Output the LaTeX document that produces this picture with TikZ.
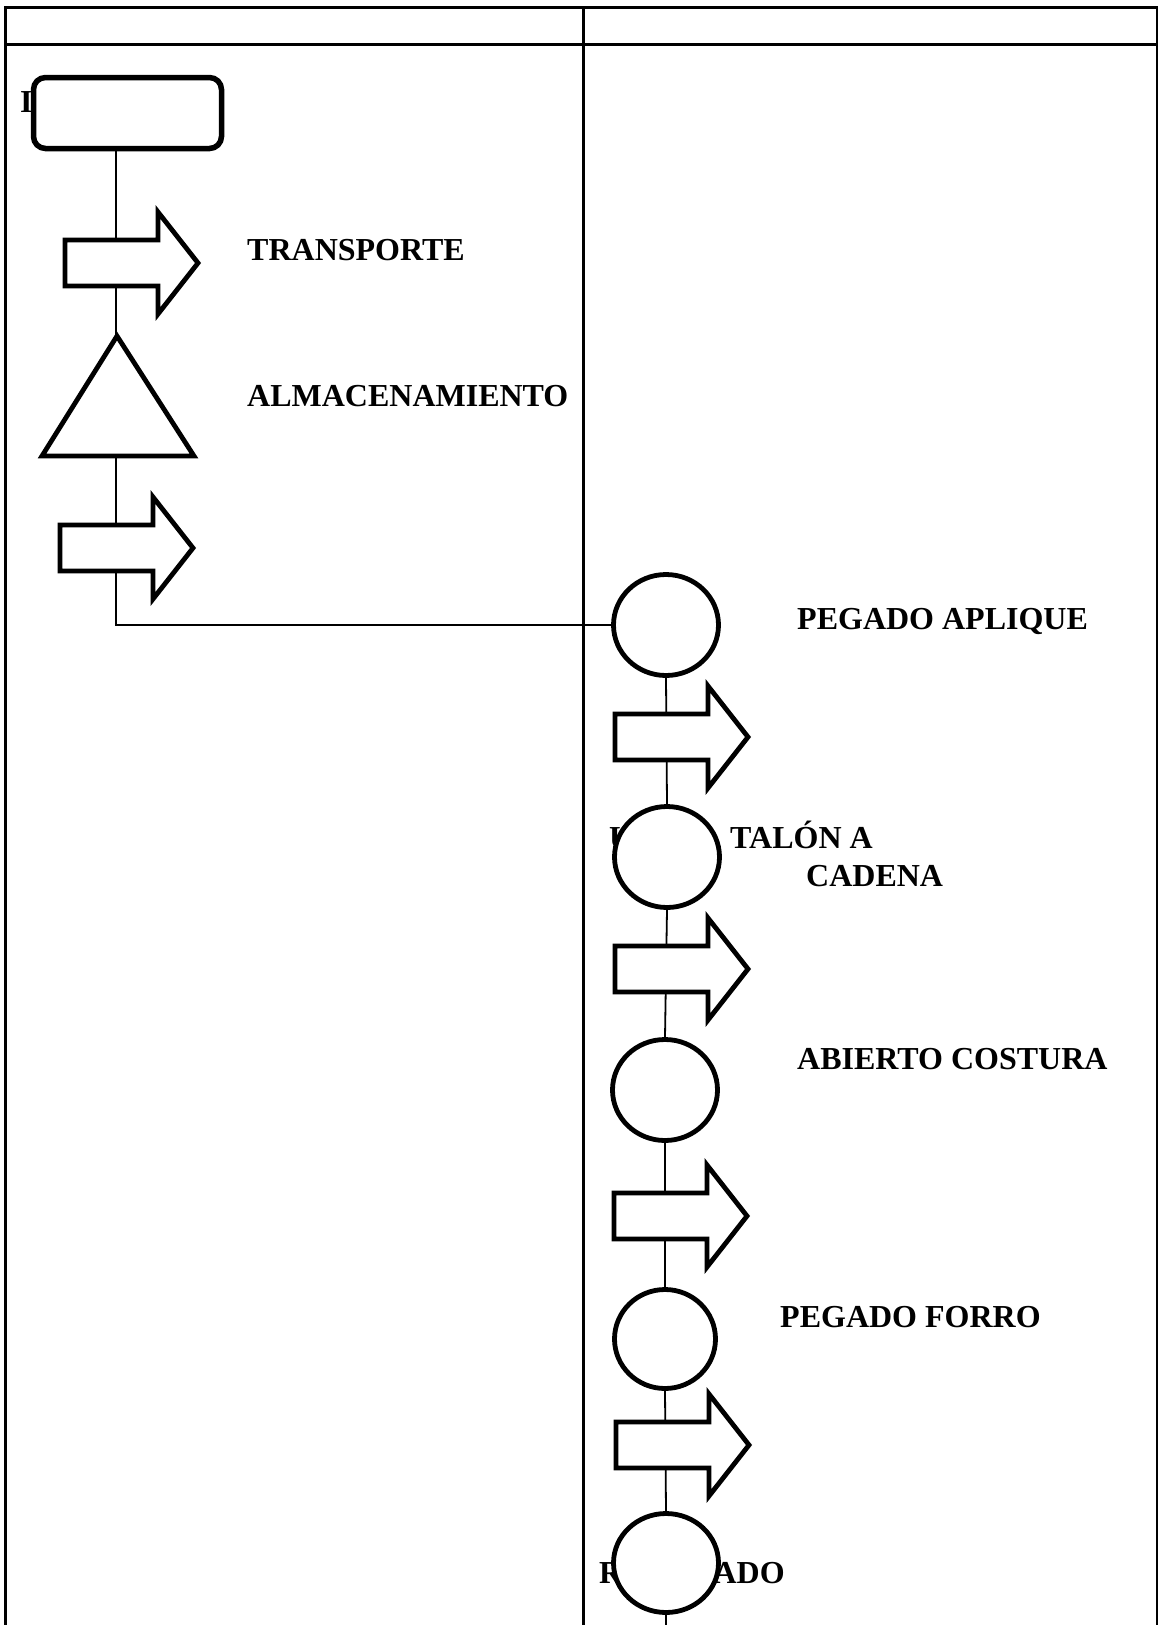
\documentclass[tikz,border=0pt]{standalone}
\usepackage{fontspec}
\setmainfont{Liberation Serif}
\usetikzlibrary{shapes.geometric,backgrounds}
\begin{document}
\begin{tikzpicture}[x=1pt,y=-1pt,
  gridline/.style={line width=2.7pt},
  link/.style={line width=1.8pt},
  outline/.style={draw, line width=4.8pt, fill=white, line join=miter},
  opcircle/.style={ellipse, outline, minimum width=105pt, minimum height=101pt, inner sep=0pt},
  startbox/.style={rectangle, draw, line width=5.5pt, fill=white, rounded corners=12pt,
                   minimum width=188pt, minimum height=71pt, inner sep=0pt},
  lbl/.style={anchor=base west, inner sep=0pt, font=\fontsize{32}{37}\selectfont\bfseries},
  flowarrow/.pic={\path[outline] (0,-23) -- (93,-23) -- (93,-51) -- (133,0)
                   -- (93,51) -- (93,23) -- (0,23) -- cycle;}
]
\useasboundingbox (0,0) rectangle (1162,1625);

% labels partly covered by the symbols drawn over them
\node[lbl] (tstart) at (20,112) {INICIO};
\node[lbl] (t2a) at (609,848) {UNIR};
\node[lbl] (t5) at (599,1583) {REMATADO};

% process symbols
\node[startbox] (start) at (127.5,113) {};
\coordinate (lx) at (116,0);
\coordinate (tritop) at (116,336);
\coordinate (tribot) at (116,456);
\node[opcircle] (c1) at (666,625) {};
\node[opcircle] (c2) at (667,857) {};
\node[opcircle] (c3) at (665,1090) {};
\node[opcircle, minimum width=101pt, minimum height=99pt] (c4) at (665,1339) {};
\node[opcircle, minimum height=99pt] (c5) at (666,1563) {};
\coordinate (bottom) at (666,1625);

% table and connectors underneath
\begin{pgfonlayer}{background}
  \draw[gridline] (5.5,1625) -- (5.5,7.5) -- (1157,7.5) -- (1157,1625);
  \draw[gridline] (5.5,44.5) -- (1157,44.5);
  \draw[gridline] (583.5,7.5) -- (583.5,1625);
  \draw[link] (start.south -| lx) -- (tritop);
  \draw[link] (tribot) |- (c1.west);
  \draw[link] (c1.south) -- (c2.north);
  \draw[link] (c2.south) -- (c3.north);
  \draw[link] (c3.south) -- (c4.north);
  \draw[link] (c4.south) -- (c5.north);
  \draw[link] (c5.south) -- (bottom);
\end{pgfonlayer}

% storage triangle
\path[outline] (117,336) -- (194,456) -- (42,456) -- cycle;

% transport arrows
\pic at (65,263) {flowarrow};
\pic at (60,548) {flowarrow};
\pic at (615,737) {flowarrow};
\pic at (615,969) {flowarrow};
\pic at (614,1216) {flowarrow};
\pic at (616,1445) {flowarrow};

% labels
\node[lbl] (t1) at (247,260) {TRANSPORTE};
\node[lbl] (tst) at (247,406.5) {ALMACENAMIENTO};
\node[lbl] (tc1) at (797,629) {PEGADO APLIQUE};
\node[lbl] (t2b) at (730,848) {TALÓN A};
\node[lbl] (t2c) at (806,886) {CADENA};
\node[lbl] (tc3) at (797,1069) {ABIERTO COSTURA};
\node[lbl] (tc4) at (780,1327) {PEGADO FORRO};
\end{tikzpicture}
\end{document}
